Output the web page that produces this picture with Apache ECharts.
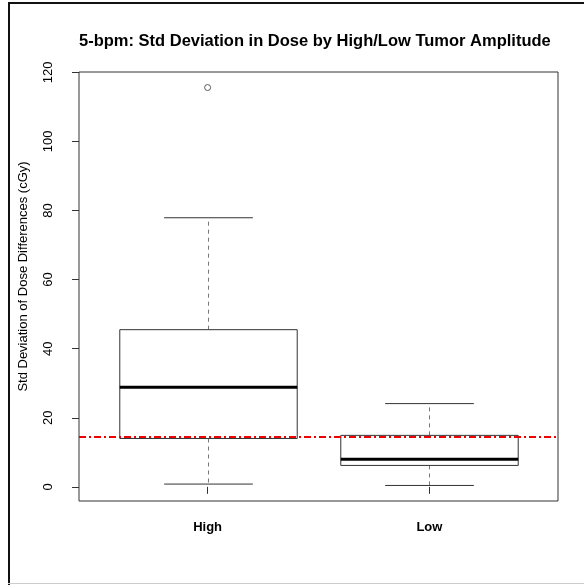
<!DOCTYPE html>
<html>
<head>
<meta charset="utf-8">
<script src="https://cdn.jsdelivr.net/npm/echarts@6/dist/echarts.min.js"></script>
<style>
  html, body { margin: 0; padding: 0; background: #fff; }
  #main { width: 584px; height: 585px; }
</style>
</head>
<body>
<div id="main"></div>
<script>
// values (cGy)
var categories = ['High', 'Low'];
var lowerWhisker = [0.8, 0.4];
var q1 = [14.0, 6.2];
var median = [28.8, 8.0];
var q3 = [45.5, 14.9];
var upperWhisker = [77.9, 24.1];
var outlierGroup = ['High'];
var outlierValue = [115.6];
var yTicks = [0, 20, 40, 60, 80, 100, 120];
var refLine = 14.4;

var boxData = categories.map(function (c, i) {
    return [i + 1, lowerWhisker[i], q1[i], median[i], q3[i], upperWhisker[i]];
});
var outlierData = outlierGroup.map(function (g, i) {
    return [categories.indexOf(g) + 1, outlierValue[i]];
});

var chart = echarts.init(document.getElementById('main'));

function renderBox(params, api) {
    var x = api.value(0);
    var w = api.size([0.8, 0])[0];
    var pLow = api.coord([x, api.value(1)]);
    var pQ1 = api.coord([x, api.value(2)]);
    var pMed = api.coord([x, api.value(3)]);
    var pQ3 = api.coord([x, api.value(4)]);
    var pUp = api.coord([x, api.value(5)]);
    var cx = Math.round(pMed[0]) + 0.5;
    var half = w / 2;
    var dash = { stroke: '#777', lineWidth: 1, lineDash: [4, 4] };
    var solid = { stroke: '#333', lineWidth: 1 };
    return {
        type: 'group',
        children: [
            { type: 'line', shape: { x1: cx, y1: pQ3[1], x2: cx, y2: pUp[1] }, style: dash },
            { type: 'line', shape: { x1: cx, y1: pQ1[1], x2: cx, y2: pLow[1] }, style: dash },
            { type: 'line', shape: { x1: cx - half / 2, y1: pUp[1], x2: cx + half / 2, y2: pUp[1] }, style: solid },
            { type: 'line', shape: { x1: cx - half / 2, y1: pLow[1], x2: cx + half / 2, y2: pLow[1] }, style: solid },
            { type: 'rect', shape: { x: cx - half, y: pQ3[1], width: w, height: pQ1[1] - pQ3[1] },
              style: { fill: '#fff', stroke: '#333', lineWidth: 1 } },
            { type: 'line', shape: { x1: cx - half, y1: pMed[1], x2: cx + half, y2: pMed[1] },
              style: { stroke: '#000', lineWidth: 3 } }
        ]
    };
}

chart.setOption({
    animation: false,
    backgroundColor: '#fff',
    title: {
        text: '5-bpm: Std Deviation in Dose by High/Low Tumor Amplitude',
        left: 79, top: 28,
        textStyle: { fontFamily: 'Liberation Sans', fontSize: 16.5, fontWeight: 'bold', color: '#000' },
        padding: [5, 0, 5, 0]
    },
    grid: {
        left: 79, top: 72, right: 26, bottom: 84,
        show: true, borderColor: '#333', borderWidth: 1, backgroundColor: '#fff'
    },
    xAxis: {
        type: 'value', min: 0.42, max: 2.58,
        splitLine: { show: false },
        axisLine: { show: false },
        axisTick: { show: true, length: 7, customValues: [1, 2], lineStyle: { color: '#333' } },
        axisLabel: {
            customValues: [1, 2], margin: 20,
            formatter: function (v) { return categories[Math.round(v) - 1]; },
            fontFamily: 'Liberation Sans', fontSize: 13, fontWeight: 'bold', color: '#000'
        }
    },
    yAxis: {
        type: 'value', min: -4.1, max: 120.1,
        name: 'Std Deviation of Dose Differences (cGy)',
        nameLocation: 'middle', nameRotate: 90, nameGap: 49,
        nameTextStyle: { fontFamily: 'Liberation Sans', fontSize: 13, color: '#000', padding: [0, 0, 0, 20] },
        splitLine: { show: false },
        axisLine: { show: false },
        axisTick: { show: true, length: 7, customValues: yTicks, lineStyle: { color: '#333' } },
        axisLabel: {
            customValues: yTicks, rotate: 90, margin: 24,
            fontFamily: 'Liberation Sans', fontSize: 13, color: '#000'
        }
    },
    graphic: [
        { type: 'rect', shape: { x: 8, y: 2, width: 2, height: 583 }, style: { fill: '#111' } },
        { type: 'rect', shape: { x: 8, y: 2, width: 576, height: 2 }, style: { fill: '#111' } },
        { type: 'rect', shape: { x: 8, y: 583, width: 576, height: 1 }, style: { fill: '#ccc' } }
    ],
    series: [
        {
            type: 'custom',
            renderItem: renderBox,
            data: boxData,
            z: 2
        },
        {
            type: 'scatter',
            data: outlierData,
            symbol: 'circle', symbolSize: 6,
            itemStyle: { color: '#fff', borderColor: '#333', borderWidth: 1 },
            z: 3,
            markLine: {
                silent: true, symbol: 'none', label: { show: false },
                lineStyle: { color: '#e00', width: 2, type: [7, 3, 2, 3] },
                data: [{ yAxis: refLine }],
                z: 4
            }
        }
    ]
});
</script>
</body>
</html>
